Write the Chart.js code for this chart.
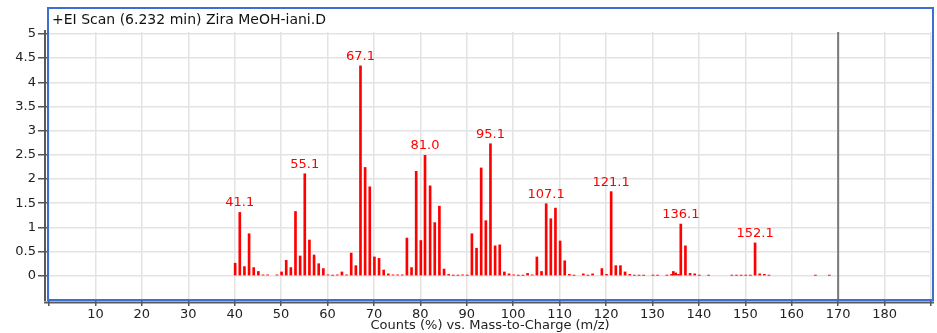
<!DOCTYPE html>
<html>
<head>
<meta charset="utf-8">
<script src="https://cdn.jsdelivr.net/npm/chart.js@4/dist/chart.umd.min.js"></script>
<style>
  html, body { margin: 0; padding: 0; background: #fff; }
  #wrap { width: 937px; height: 333px; }
</style>
</head>
<body>
<div id="wrap"><canvas id="myChart" width="937" height="333"></canvas></div>
<script>
// espectro (m/z, intensidad en %)
const masas = [
  40.1, 41.1, 42.1, 43.1, 44.1, 45.1, 46.1, 47.1, 49.1, 50.1,
  51.1, 52.1, 53.1, 54.1, 55.1, 56.1, 57.1, 58.1, 59.1, 60.1,
  61.1, 62.1, 63.1, 64.1, 65.1, 66.1, 67.1, 68.1, 69.1, 70.1,
  71.1, 72.1, 73.1, 74.1, 75.1, 76.1, 77.1, 78.1, 79.1, 80.1,
  81.0, 82.1, 83.1, 84.1, 85.1, 86.1, 87.1, 88.1, 89.1, 90.1,
  91.1, 92.1, 93.1, 94.1, 95.1, 96.1, 97.1, 98.1, 99.1, 100.1,
  101.1, 102.1, 103.1, 104.1, 105.1, 106.1, 107.1, 108.1, 109.1, 110.1,
  111.1, 112.1, 113.1, 115.1, 116.1, 117.1, 119.1, 120.1, 121.1, 122.1,
  123.1, 124.1, 125.1, 126.1, 127.1, 128.1, 130.1, 131.1, 133.1, 134.1,
  134.5, 135.0, 135.6, 136.1, 137.1, 138.1, 139.1, 140.1, 142.1, 147.1,
  148.1, 149.1, 150.1, 151.1, 152.1, 153.1, 154.1, 155.1, 165.1, 168.1
];
const intensidad = [
  0.26, 1.31, 0.19, 0.87, 0.17, 0.09, 0.02, 0.02, 0.02, 0.08,
  0.32, 0.17, 1.33, 0.41, 2.11, 0.74, 0.43, 0.25, 0.15, 0.02,
  0.01, 0.02, 0.08, 0.02, 0.47, 0.21, 4.34, 2.24, 1.84, 0.39,
  0.36, 0.12, 0.04, 0.02, 0.02, 0.02, 0.78, 0.17, 2.16, 0.73,
  2.49, 1.86, 1.10, 1.44, 0.14, 0.03, 0.01, 0.01, 0.02, 0.01,
  0.87, 0.57, 2.23, 1.14, 2.73, 0.62, 0.64, 0.08, 0.04, 0.02,
  0.01, 0.01, 0.05, 0.02, 0.39, 0.09, 1.49, 1.18, 1.40, 0.72,
  0.31, 0.03, 0.01, 0.04, 0.01, 0.04, 0.15, 0.03, 1.74, 0.21,
  0.21, 0.08, 0.03, 0.01, 0.01, 0.01, 0.01, 0.01, 0.01, 0.03,
  0.09, 0.06, 0.03, 1.07, 0.62, 0.05, 0.04, 0.01, 0.01, 0.01,
  0.01, 0.01, 0.01, 0.01, 0.68, 0.04, 0.03, 0.01, 0.01, 0.01
];
// picos etiquetados
const picos = [41.1, 55.1, 67.1, 81.0, 95.1, 107.1, 121.1, 136.1, 152.1];
const ticksY = [0, 0.5, 1, 1.5, 2, 2.5, 3, 3.5, 4, 4.5, 5];
const marcaLimite = 170;
const titulo = "+EI Scan (6.232 min) Zira MeOH-iani.D";
const tituloX = "Counts (%) vs. Mass-to-Charge (m/z)";

const fuente = "'DejaVu Sans', sans-serif";
const rojo = "#ff0000";
const azul = "#3b70d2";

const marco = {
  id: "marco",
  afterDatasetsDraw(chart) {
    const ctx = chart.ctx;
    const meta = chart.getDatasetMeta(0);
    ctx.save();
    ctx.fillStyle = rojo;
    ctx.font = "13px " + fuente;
    ctx.textAlign = "center";
    ctx.textBaseline = "bottom";
    picos.forEach((mz) => {
      const i = masas.indexOf(mz);
      if (i < 0) return;
      const el = meta.data[i];
      ctx.fillText(mz.toFixed(1), el.x, el.y - 3);
    });
    ctx.restore();
  },
  afterDraw(chart) {
    const ctx = chart.ctx;
    const { top, bottom } = chart.chartArea;
    const xs = chart.scales.x;
    ctx.save();
    // linea vertical en 170
    const x170 = xs.getPixelForValue(marcaLimite);
    ctx.strokeStyle = "#7a7a7a";
    ctx.lineWidth = 2;
    ctx.beginPath();
    ctx.moveTo(x170, top);
    ctx.lineTo(x170, bottom);
    ctx.stroke();
    // ejes grises
    ctx.strokeStyle = "#5a5a5a";
    ctx.beginPath();
    ctx.moveTo(45, top - 2);
    ctx.lineTo(45, bottom + 1);
    ctx.moveTo(44, bottom + 2.5);
    ctx.lineTo(934, bottom + 2.5);
    ctx.stroke();
    // marco azul
    ctx.strokeStyle = azul;
    ctx.lineWidth = 2;
    ctx.strokeRect(48, 8, 885, 292);
    // titulo
    ctx.fillStyle = "#111";
    ctx.font = "14px " + fuente;
    ctx.textAlign = "left";
    ctx.textBaseline = "middle";
    ctx.fillText(titulo, 52, 20);
    ctx.restore();
  }
};

const datos = masas.map((m, i) => ({ x: m, y: intensidad[i] }));

new Chart(document.getElementById("myChart"), {
  type: "bar",
  data: {
    datasets: [{
      data: datos,
      backgroundColor: rojo,
      borderWidth: 0,
      barThickness: 2
    }]
  },
  options: {
    responsive: false,
    animation: false,
    layout: { padding: { top: 32, right: 6, left: 0, bottom: 0 } },
    plugins: { legend: { display: false }, tooltip: { enabled: false } },
    scales: {
      x: {
        type: "linear",
        min: 0,
        max: 190,
        offset: false,
        afterFit: (scale) => { scale.height = 33; },
        ticks: {
          stepSize: 10,
          autoSkip: false,
          maxRotation: 0,
          padding: 1,
          color: "#222",
          font: { family: fuente, size: 13 },
          callback: (v) => (v === 0 || v === 190 ? "" : v)
        },
        grid: { offset: false, color: "#e3e3e3", lineWidth: 1.5, tickLength: 6, tickColor: "#555", tickWidth: 1.5 },
        border: { display: false },
        title: {
          display: true,
          text: tituloX,
          color: "#222",
          font: { family: fuente, size: 13 },
          padding: { top: 0, bottom: 0 }
        }
      },
      y: {
        min: -0.5,
        max: 5.04,
        afterFit: (scale) => { scale.width = 49; },
        afterBuildTicks: (scale) => { scale.ticks = ticksY.map((v) => ({ value: v })); },
        ticks: {
          padding: 2,
          color: "#222",
          font: { family: fuente, size: 13 },
          callback: (v) => String(v)
        },
        grid: { color: "#e3e3e3", lineWidth: 1.5, tickLength: 11, tickColor: "#555", tickWidth: 1.5 },
        border: { display: false }
      }
    }
  },
  plugins: [marco]
});
</script>
</body>
</html>
